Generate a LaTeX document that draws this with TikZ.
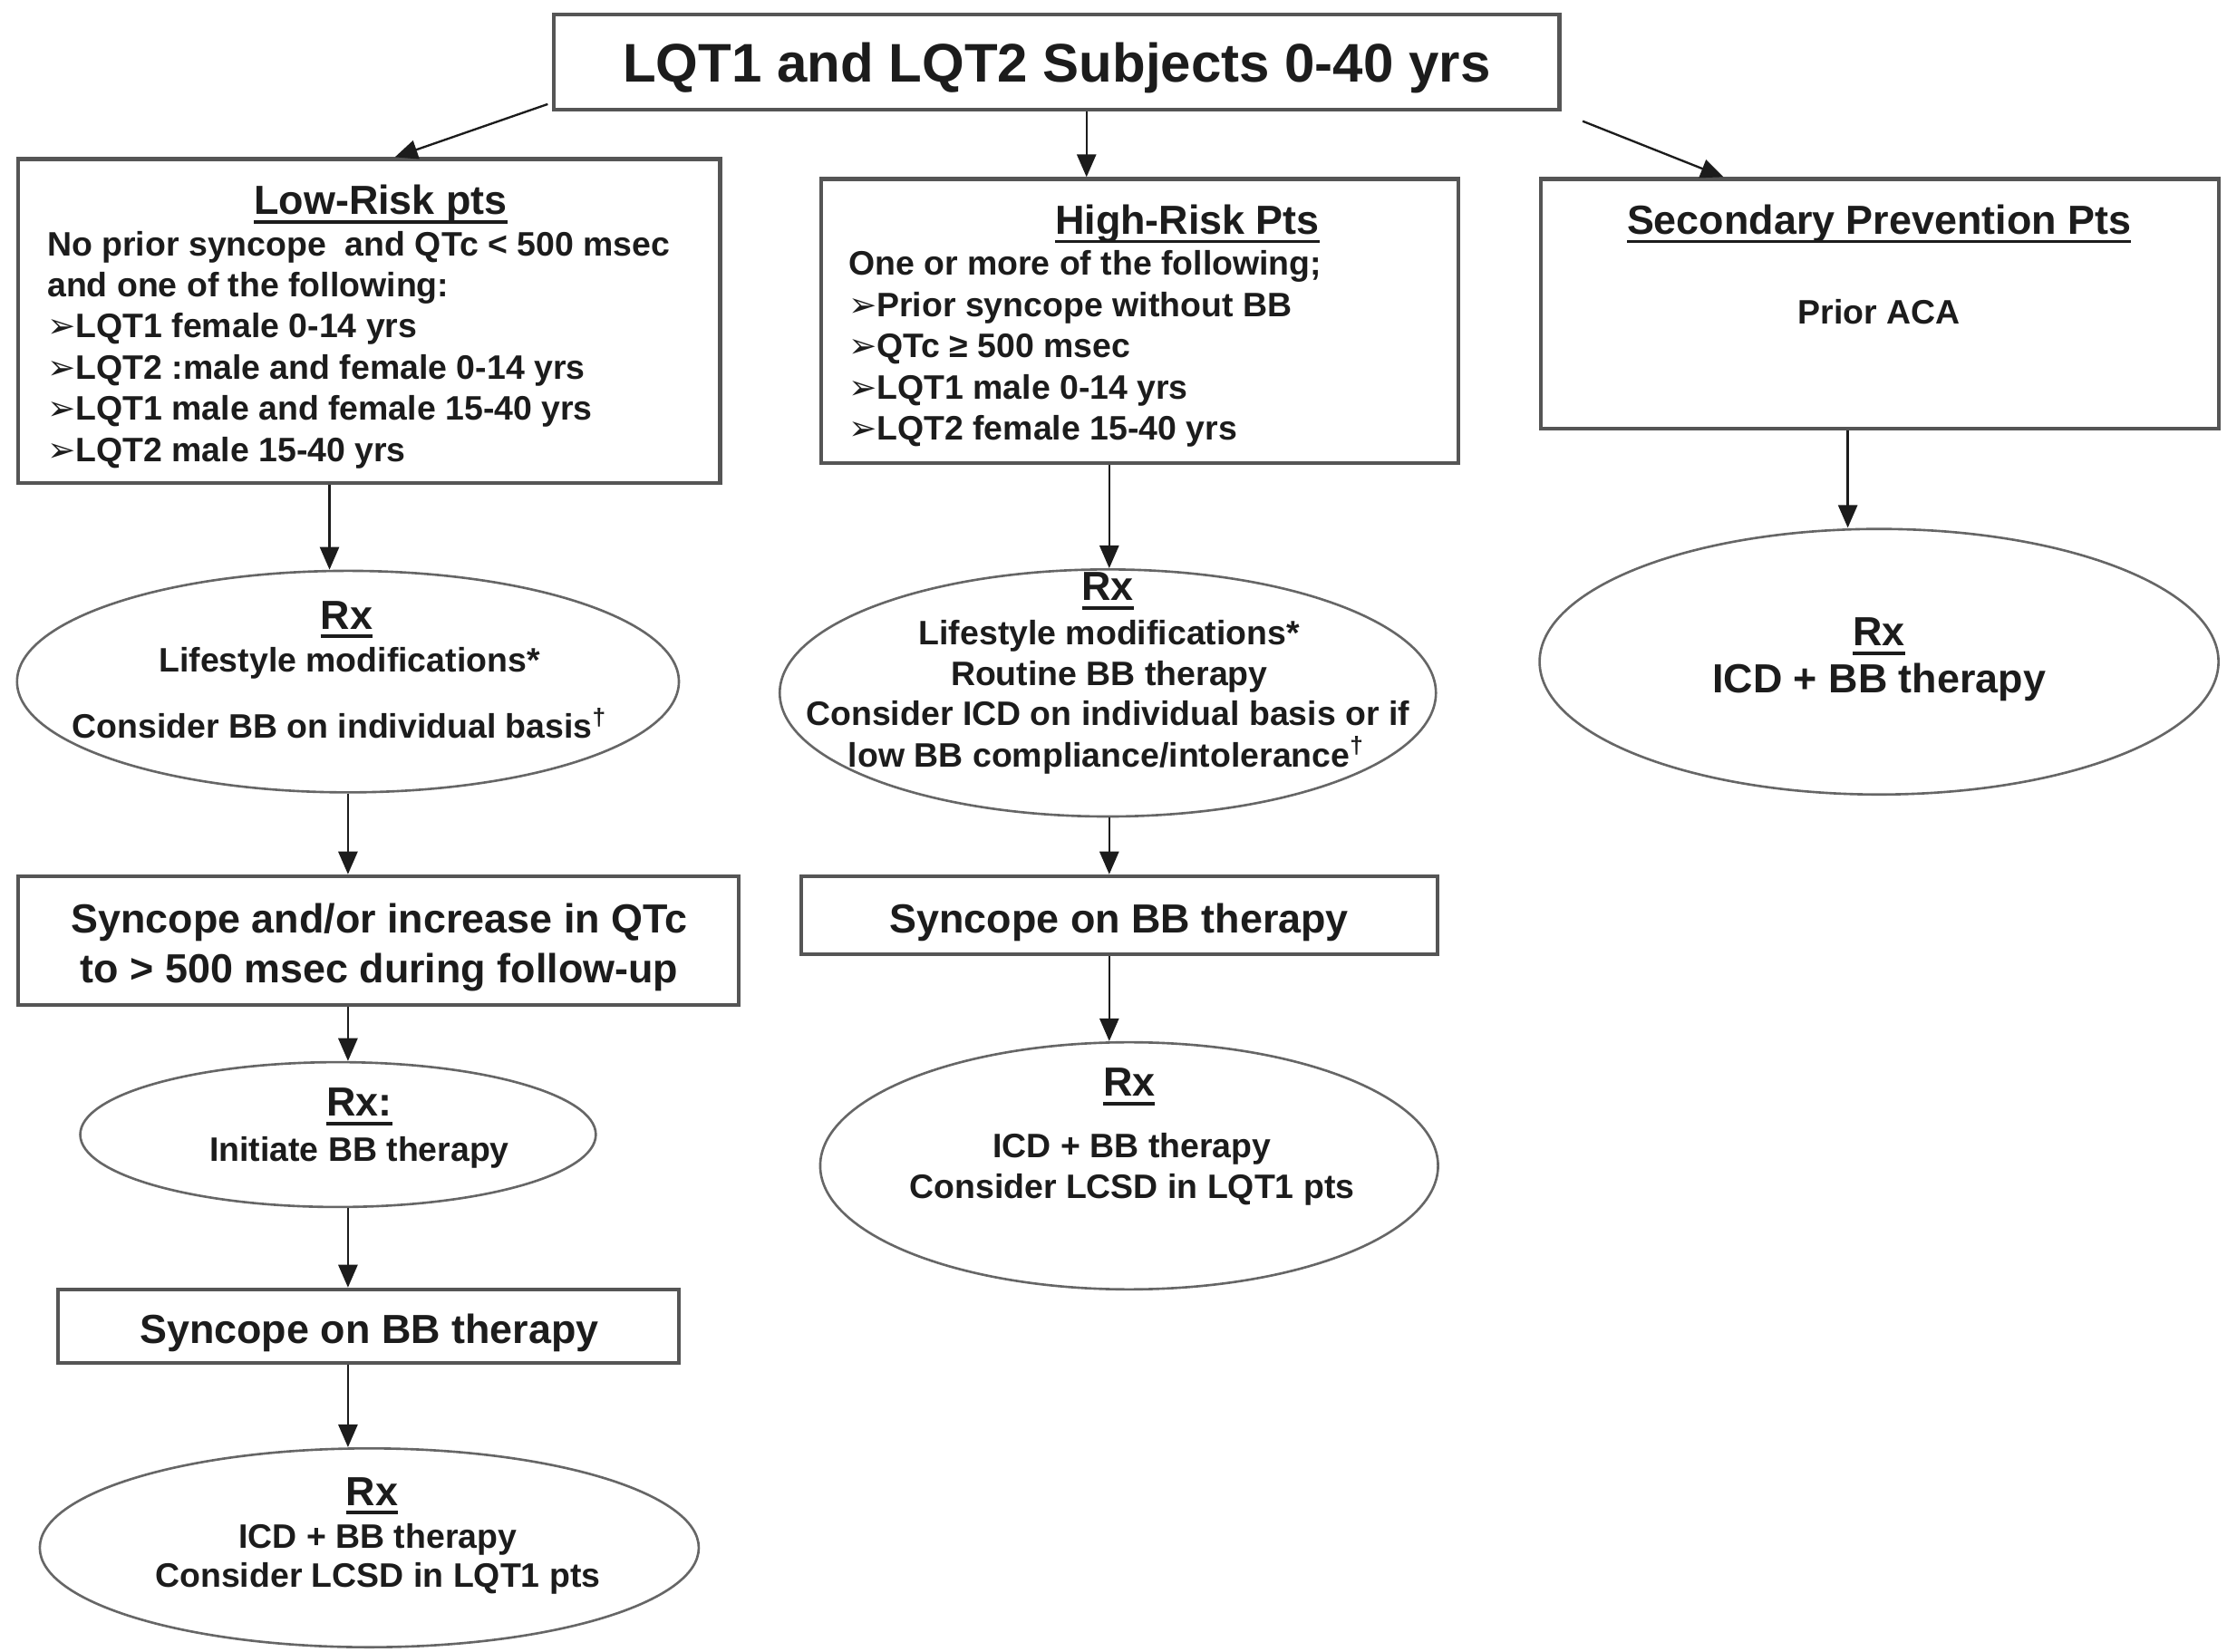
\documentclass[tikz,border=0pt]{standalone}
\usepackage{fontspec}
\setmainfont{Liberation Sans}
\newfontfamily\djv{DejaVu Sans}
\usetikzlibrary{arrows.meta,shapes.geometric,fit}
\definecolor{ink}{HTML}{1C1C1C}
\definecolor{boxline}{HTML}{555555}
\definecolor{ellline}{HTML}{666666}
\newcommand\uln[1]{\leavevmode\vtop{\hbox{\raisebox{0pt}[\height][0pt]{#1}}\kern2.2pt\hrule height 1.4pt}}
\newcommand\bul{{\djv\mdseries ➢}}
\newcommand\putline[5]{\node[#1] (#2) at (#3,#4) {#5};}
\tikzset{
  small/.style={font=\bfseries\fontsize{13.6}{16.4}\selectfont, inner sep=0pt, text=ink},
  big/.style={font=\bfseries\fontsize{16.3}{19.8}\selectfont, inner sep=0pt, text=ink},
  huge/.style={font=\bfseries\fontsize{21.8}{26}\selectfont, inner sep=0pt, text=ink},
  cen/.style={anchor=base},
  lft/.style={anchor=base west},
  boxnode/.style={draw=boxline, line width=1.5pt, fill=white, inner sep=0pt, rectangle},
  ellnode/.style={draw=ellline, line width=0.95pt, fill=white, inner sep=0pt, ellipse},
  arr/.style={draw=ink, line width=0.85pt, -{Triangle[length=0.32cm,width=0.27cm]}}
}
\begin{document}
\begin{tikzpicture}[x=0.02cm, y=-0.02cm]
\fill[white] (0,0) rectangle (1568,1163);
\useasboundingbox (0,0) rectangle (1568,1163);

% ---- boxes ----
\node[boxnode, fit={(390,10) (1098,77)}] (top) {};
\node[boxnode, fit={(13,112) (507,340)}] (lowbox) {};
\node[boxnode, fit={(578,126) (1027,326)}] (highbox) {};
\node[boxnode, fit={(1085,126) (1562,302)}] (secbox) {};
\node[boxnode, fit={(13,617) (520,708)}] (syn1) {};
\node[boxnode, fit={(41,908) (478,960)}] (syn2) {};
\node[boxnode, fit={(564,617) (1012,672)}] (syn3) {};

% ---- ellipses ----
\node[ellnode, minimum width={466*0.02cm}, minimum height={156*0.02cm}] (ell1) at (245,480) {};
\node[ellnode, minimum width={462*0.02cm}, minimum height={174*0.02cm}] (ell2) at (780,488) {};
\node[ellnode, minimum width={478*0.02cm}, minimum height={187*0.02cm}] (ell3) at (1323,466) {};
\node[ellnode, minimum width={363*0.02cm}, minimum height={102*0.02cm}] (ell4) at (238,799) {};
\node[ellnode, minimum width={464*0.02cm}, minimum height={140*0.02cm}] (ell5) at (260,1090) {};
\node[ellnode, minimum width={435*0.02cm}, minimum height={174*0.02cm}] (ell6) at (795,821) {};

% ---- texts ----
\putline{huge,cen}{tTop}{744}{58}{LQT1 and LQT2 Subjects 0-40 yrs}

\putline{big,cen}{tLow}{268}{151}{\uln{Low-Risk pts}}
\putline{small,lft}{tLow1}{33}{180}{No prior syncope\ \ and QTc < 500 msec}
\putline{small,lft}{tLow2}{33}{209}{and one of the following:}
\putline{small,lft}{tLow3}{33}{238}{\bul LQT1 female 0-14 yrs}
\putline{small,lft}{tLow4}{33}{267}{\bul LQT2 :male and female 0-14 yrs}
\putline{small,lft}{tLow5}{33}{296}{\bul LQT1 male and female 15-40 yrs}
\putline{small,lft}{tLow6}{33}{325}{\bul LQT2 male 15-40 yrs}

\putline{big,cen}{tHigh}{836}{165}{\uln{High-Risk Pts}}
\putline{small,lft}{tHigh1}{597}{194}{One or more of the following;}
\putline{small,lft}{tHigh2}{597}{223}{\bul Prior syncope without BB}
\putline{small,lft}{tHigh3}{597}{252}{\bul QTc ≥ 500 msec}
\putline{small,lft}{tHigh4}{597}{281}{\bul LQT1 male 0-14 yrs}
\putline{small,lft}{tHigh5}{597}{310}{\bul LQT2 female 15-40 yrs}

\putline{big,cen}{tSec}{1323}{165}{\uln{Secondary Prevention Pts}}
\putline{small,cen}{tSec1}{1323}{228}{Prior ACA}

\putline{big,cen}{tE1a}{244}{443}{\uln{Rx}}
\putline{small,cen}{tE1b}{246}{473}{Lifestyle modifications*}
\putline{small,cen}{tE1c}{239}{520}{Consider BB on individual basis\textsuperscript{†}}

\putline{big,cen}{tE2a}{780}{423}{\uln{Rx}}
\putline{small,cen}{tE2b}{781}{454}{Lifestyle modifications*}
\putline{small,cen}{tE2c}{781}{483}{Routine BB therapy}
\putline{small,cen}{tE2d}{780}{511}{Consider ICD on individual basis or if}
\putline{small,cen}{tE2e}{779}{540}{low BB compliance/intolerance\textsuperscript{†}}

\putline{big,cen}{tE3a}{1323}{455}{\uln{Rx}}
\putline{big,cen}{tE3b}{1323}{488}{ICD + BB therapy}

\putline{big,cen}{tS1a}{267}{657}{Syncope and/or increase in QTc}
\putline{big,cen}{tS1b}{267}{692}{to > 500 msec during follow-up}

\putline{big,cen}{tE4a}{253}{786}{\uln{Rx:}}
\putline{small,cen}{tE4b}{253}{818}{Initiate BB therapy}

\putline{big,cen}{tS2}{260}{946}{Syncope on BB therapy}

\putline{big,cen}{tE5a}{262}{1060}{\uln{Rx}}
\putline{small,cen}{tE5b}{266}{1090}{ICD + BB therapy}
\putline{small,cen}{tE5c}{266}{1118}{Consider LCSD in LQT1 pts}

\putline{big,cen}{tS3}{788}{657}{Syncope on BB therapy}

\putline{big,cen}{tE6a}{795}{772}{\uln{Rx}}
\putline{small,cen}{tE6b}{797}{815}{ICD + BB therapy}
\putline{small,cen}{tE6c}{797}{844}{Consider LCSD in LQT1 pts}

% ---- connectors ----
\coordinate (cTop) at (765,0);
\coordinate (cLowA) at (232,0);
\coordinate (cSec) at (1301,0);
\coordinate (cL) at (245,0);
\coordinate (cM) at (781,0);

\draw[arr] ([shift={(-3,-5)}]top.south west) -- ([shift={(18,0)}]lowbox.north);
\draw[arr] (top.south -| cTop) -- (highbox.north -| cTop);
\draw[arr] ([shift={(15,7)}]top.south east) -- ([shift={(-110,0)}]secbox.north);

\draw[arr] (lowbox.south -| cLowA) -- (ell1.north -| cLowA);
\draw[arr] (highbox.south -| cM) -- (ell2.north -| cM);
\draw[arr] (secbox.south -| cSec) -- (ell3.north -| cSec);

\draw[arr] (ell1.south -| cL) -- (syn1.north -| cL);
\draw[arr] (syn1.south -| cL) -- (ell4.north -| cL);
\draw[arr] (ell4.south -| cL) -- (syn2.north -| cL);
\draw[arr] (syn2.south -| cL) -- (ell5.north -| cL);

\draw[arr] (ell2.south -| cM) -- (syn3.north -| cM);
\draw[arr] (syn3.south -| cM) -- (ell6.north -| cM);
\end{tikzpicture}
\end{document}
